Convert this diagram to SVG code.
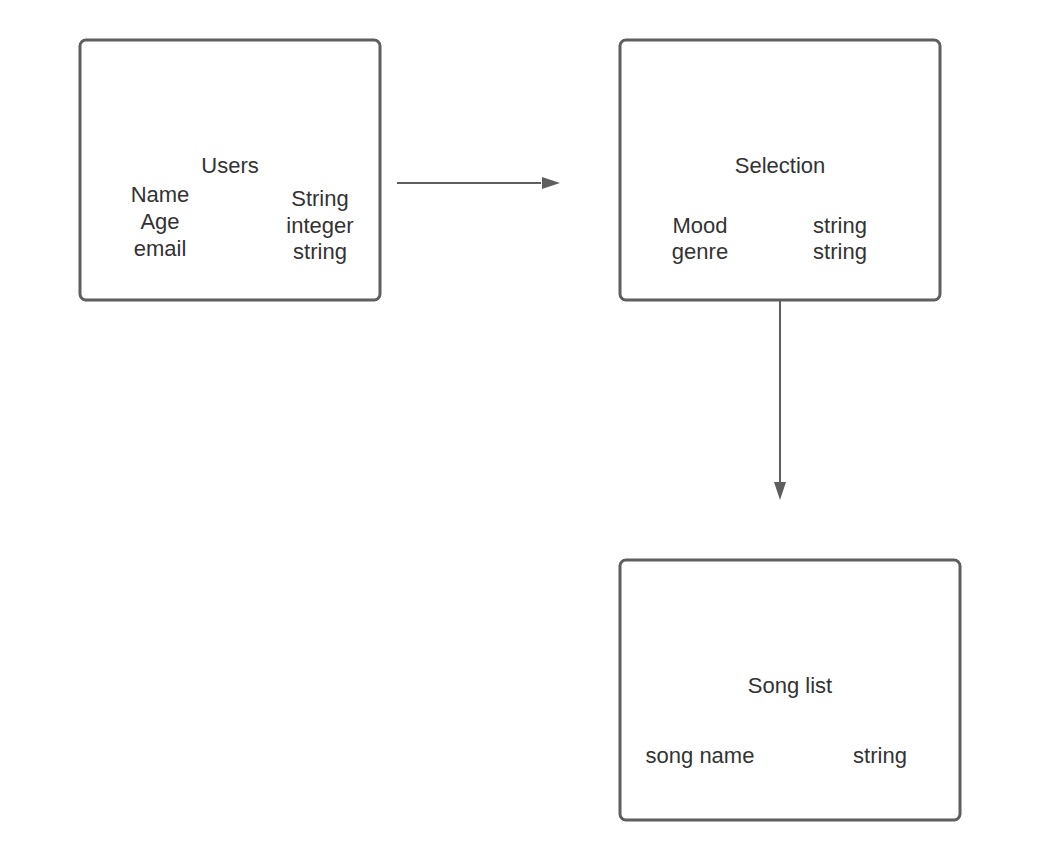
<svg xmlns="http://www.w3.org/2000/svg" width="1040" height="860" viewBox="0 0 1040 860">
<style>
.box{fill:#fff;stroke:#5e5e5e;stroke-width:3}
text{font-family:"Liberation Sans",Arial,sans-serif;font-size:22px;fill:#333;text-anchor:middle}
.edge{stroke:#5e5e5e;stroke-width:2;fill:none}
</style>
<rect width="1040" height="860" fill="#fff"/>
<g id="connectors">
<line class="edge" x1="397" y1="183" x2="541" y2="183"/>
<path d="M542,177 L560,183 L542,189 Z" fill="#5e5e5e"/>
<line class="edge" x1="780" y1="300" x2="780" y2="483"/>
<path d="M774,482 L780,500 L786,482 Z" fill="#5e5e5e"/>
</g>
<g id="users">
<rect class="box" x="80" y="40" width="300" height="260" rx="6"/>
<text x="230" y="173">Users</text>
<text x="160" y="202">Name</text>
<text x="160" y="229">Age</text>
<text x="160" y="256">email</text>
<text x="320" y="206">String</text>
<text x="320" y="233">integer</text>
<text x="320" y="259">string</text>
</g>
<g id="selection">
<rect class="box" x="620" y="40" width="320" height="260" rx="6"/>
<text x="780" y="173">Selection</text>
<text x="700" y="233">Mood</text>
<text x="700" y="259">genre</text>
<text x="840" y="233">string</text>
<text x="840" y="259">string</text>
</g>
<g id="songlist">
<rect class="box" x="620" y="560" width="340" height="260" rx="6"/>
<text x="790" y="693">Song list</text>
<text x="700" y="763">song name</text>
<text x="880" y="763">string</text>
</g>
</svg>
